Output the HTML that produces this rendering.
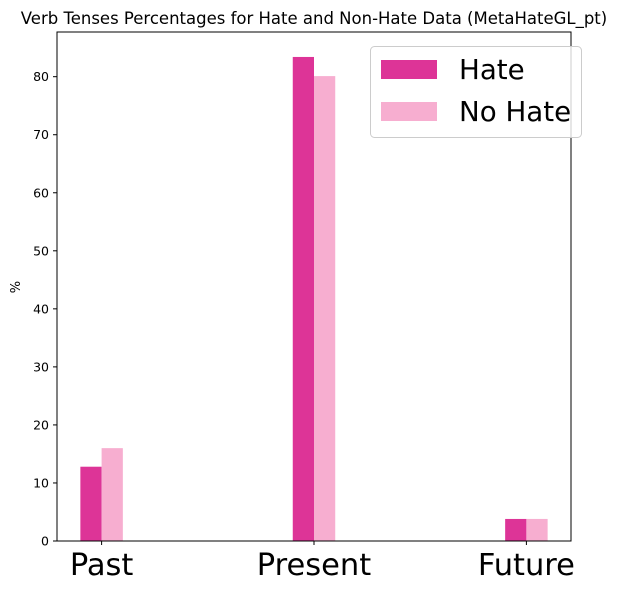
<!DOCTYPE html>
<html><head><meta charset="utf-8">
<style>
html,body{margin:0;padding:0;background:#fff;}
svg{display:block;font-family:"DejaVu Sans","Liberation Sans",sans-serif;}
</style></head>
<body>
<svg id="chart" width="618" height="590" viewBox="0 0 618 590"></svg>
<script>
const categories = ["Past", "Present", "Future"];
const hateValues = [12.8, 83.4, 3.8];
const noHateValues = [16.0, 80.1, 3.8];
const yTicks = [0, 10, 20, 30, 40, 50, 60, 70, 80];

const NS = "http://www.w3.org/2000/svg";
const svg = document.getElementById("chart");
const L = 57, R = 571, T = 32, B = 541;
const yMax = 87.7;
function y(v){ return B - v / yMax * (B - T); }
function x(i){ return L + (i + 0.21) / 2.42 * (R - L); }
const bw = 0.1 / 2.42 * (R - L);

function el(tag, attrs, parent){
  const e = document.createElementNS(NS, tag);
  for (const k in attrs) e.setAttribute(k, attrs[k]);
  (parent || svg).appendChild(e);
  return e;
}

const title = el("text", {x: 314, y: 24, "font-size": 16.5, "text-anchor": "middle", fill: "#000"});


title.textContent = "Verb Tenses Percentages for Hate and Non-Hate Data (MetaHateGL_pt)";

categories.forEach((c, i) => {
  const b1 = el("rect", {x: x(i) - bw, y: y(hateValues[i]), width: bw, height: B - y(hateValues[i]), fill: "#dd3497"});
  
  
  const b2 = el("rect", {x: x(i), y: y(noHateValues[i]), width: bw, height: B - y(noHateValues[i]), fill: "#f7aed0"});
  
  
  const tk = el("line", {x1: x(i), x2: x(i), y1: B, y2: B + 4, stroke: "#000"});
  
  
  const lb = el("text", {x: x(i), y: B + 34, "font-size": 30.5, "text-anchor": "middle"});
  
  
  lb.textContent = c;
});

yTicks.forEach(v => {
  const tk = el("line", {x1: L - 4, x2: L, y1: y(v), y2: y(v), stroke: "#000"});
  
  
  const lb = el("text", {x: L - 8, y: y(v) + 4.5, "font-size": 12.5, "text-anchor": "end"});
  
  
  lb.textContent = v;
});

const frame = el("rect", {x: L, y: T, width: R - L, height: B - T, fill: "none", stroke: "#000", "stroke-width": 1});



const yl = el("text", {x: 20, y: 287, "font-size": 13, "text-anchor": "middle", transform: "rotate(-90 20 287)"});


yl.textContent = "%";

const lg = el("g", {});


el("rect", {x: 370.5, y: 46.5, width: 211, height: 91, rx: 4, fill: "#fff", "fill-opacity": 0.8, stroke: "#ccc"}, lg);
const items = [["Hate", "#dd3497", 69], ["No Hate", "#f7aed0", 111]];
items.forEach(([n, col, cy]) => {
  const g = el("g", {}, lg);
  
  
  el("rect", {x: 381, y: cy - 9, width: 56, height: 19, fill: col}, g);
  const t = el("text", {x: 459, y: cy + 10, "font-size": 27.7}, g);
  t.textContent = n;
});
</script>
</body></html>
